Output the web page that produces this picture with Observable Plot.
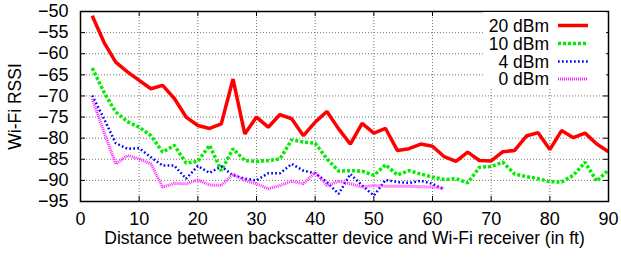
<!DOCTYPE html>
<html><head><meta charset="utf-8">
<script src="https://cdn.jsdelivr.net/npm/d3@7"></script>
<script src="https://cdn.jsdelivr.net/npm/@observablehq/plot@0.6"></script>
<style>
body{margin:0;background:#fff;font-family:"Liberation Sans",Arial,sans-serif;}
#wrap{position:relative;width:621px;height:261px;}
#legend{position:absolute;left:0;top:0;}
</style></head><body><div id="wrap"></div>
<script>
const distanceLong = [2,4,6,8,10,12,14,16,18,20,22,24,26,28,30,32,34,36,38,40,42,44,46,48,50,52,54,56,58,60,62,64,66,68,70,72,74,76,78,80,82,84,86,88,90];
const distanceShort = [2,4,6,8,10,12,14,16,18,20,22,24,26,28,30,32,34,36,38,40,42,44,46,48,50,52,54,56,58,60,62];
const rssi20 = [-51,-57.3,-62,-64.3,-66.3,-68.3,-67.5,-70.6,-75,-77,-77.7,-76.6,-66,-79,-75,-77.4,-74.4,-75.4,-79.4,-76.2,-73.7,-77.8,-81.4,-76.5,-78.8,-77.7,-82.9,-82.5,-81.4,-81.9,-84.4,-85.5,-83.3,-85.3,-85.4,-83.2,-82.9,-79.5,-78.7,-82.7,-78.2,-79.9,-78.8,-81.4,-83.2];
const rssi10 = [-63.4,-69.1,-73.8,-76.1,-77.4,-79.4,-83.3,-81.7,-85.9,-85.5,-81.7,-87.7,-82.5,-85.3,-85.5,-85.3,-84.9,-80.4,-80.9,-81.2,-84.9,-87.8,-87.7,-87.8,-88.8,-86.3,-88.7,-87.7,-88.5,-89.2,-89.8,-89.6,-90.6,-86.9,-86.7,-85.7,-88.5,-89.1,-89.6,-90.3,-90.4,-88.8,-85.7,-90.2,-87.5];
const rssi4 = [-69.9,-75.4,-81.2,-82.5,-82.4,-84.5,-86.5,-86.5,-89.6,-86.6,-88.2,-86.7,-88.8,-89.6,-90,-88.3,-88.3,-86.1,-87.7,-88.3,-90.4,-93.2,-88.5,-91.2,-93.6,-89.9,-90.4,-90.6,-90.1,-90.8,-92.2];
const rssi0 = [-70.7,-78.5,-86.1,-84.1,-84.9,-86.1,-91.6,-90.7,-90.8,-89.9,-91.1,-91.2,-88.5,-90,-90.8,-92,-91.2,-90.2,-90.8,-88.1,-91.2,-90.2,-90.8,-91.6,-91.2,-91.4,-91.4,-91.4,-91.5,-91.6,-91.8];
const seriesNames = ["20 dBm","10 dBm","4 dBm","0 dBm"];
const xTicks = [0,10,20,30,40,50,60,70,80,90];
const yTicks = [-50,-55,-60,-65,-70,-75,-80,-85,-90,-95];
const xLabel = "Distance between backscatter device and Wi-Fi receiver (in ft)";
const yLabel = "Wi-Fi RSSI";

const styles = [
  {stroke:"#ff0000", strokeWidth:3.5, strokeDasharray:null},
  {stroke:"#00ee00", strokeWidth:3.5, strokeDasharray:"3,2"},
  {stroke:"#0000ff", strokeWidth:2.5, strokeDasharray:"1.7,2.3"},
  {stroke:"#ff22ff", strokeWidth:3, strokeDasharray:"1,1"}
];
const seriesData = [
  distanceLong.map((d,i)=>({x:d,y:rssi20[i]})),
  distanceLong.map((d,i)=>({x:d,y:rssi10[i]})),
  distanceShort.map((d,i)=>({x:d,y:rssi4[i]})),
  distanceShort.map((d,i)=>({x:d,y:rssi0[i]}))
];

const W = 621, H = 261, mL = 80, mR = 13, mT = 11, mB = 60;
const plotW = W - mL - mR, plotH = H - mT - mB;
const font = "Liberation Sans, Arial, sans-serif";

const chart = Plot.plot({
  width: W, height: H,
  marginLeft: mL, marginRight: mR, marginTop: mT, marginBottom: mB,
  style: {fontFamily: font, fontSize: "18px", color: "#000", background: "#fff", overflow: "visible"},
  x: {domain: [0, 90], label: null},
  y: {domain: [-95, -50], label: null},
  marks: [
    Plot.gridX(xTicks, {stroke: "#555", strokeOpacity: 0.8, strokeDasharray: "1,2", strokeWidth: 1}),
    Plot.gridY(yTicks, {stroke: "#555", strokeOpacity: 0.8, strokeDasharray: "1,2", strokeWidth: 1}),
    ...seriesData.map((data, i) => Plot.line(data, {x: "x", y: "y", ...styles[i], strokeLinejoin: "miter", strokeLinecap: "butt"})),
    Plot.tickX(xTicks, {x: d => d, insetTop: plotH - 5, stroke: "#000"}),
    Plot.tickX(xTicks, {x: d => d, insetBottom: plotH - 5, stroke: "#000"}),
    Plot.tickY(yTicks, {y: d => d, insetRight: plotW - 5, stroke: "#000"}),
    Plot.tickY(yTicks, {y: d => d, insetLeft: plotW - 5, stroke: "#000"}),
    Plot.axisX(xTicks, {tickSize: 0, tickPadding: 11, fontSize: 18, label: null}),
    Plot.axisY(yTicks, {tickSize: 0, tickPadding: 12, fontSize: 18, label: null}),
    Plot.frame({stroke: "#000", strokeWidth: 1.5}),
    Plot.text([xLabel], {frameAnchor: "bottom", dy: 42, fontSize: 17.5, textAnchor: "middle"}),
    Plot.text([yLabel], {frameAnchor: "left", textAnchor: "middle", rotate: -90, dx: -65, fontSize: 17.5})
  ]
});
const wrap = document.getElementById("wrap");
wrap.appendChild(chart);

// Legend overlay (inside plot area, top-right, white box)
const leg = d3.select(wrap).append("svg")
  .attr("id", "legend").attr("width", W).attr("height", H)
  .style("position", "absolute").style("left", "0px").style("top", "0px");
leg.append("rect").attr("x", 483).attr("y", 12).attr("width", 123).attr("height", 77).attr("fill", "#fff");
const rowY = [25.5, 43.5, 61.5, 79];
seriesNames.forEach((name, i) => {
  leg.append("text").attr("x", 549).attr("y", rowY[i]).attr("dy", "0.36em")
    .attr("text-anchor", "end").attr("font-family", font).attr("font-size", 17.5).text(name);
  leg.append("line").attr("x1", 558).attr("x2", 588).attr("y1", rowY[i]).attr("y2", rowY[i])
    .attr("stroke", styles[i].stroke).attr("stroke-width", styles[i].strokeWidth)
    .attr("stroke-dasharray", styles[i].strokeDasharray);
});
</script></body></html>
